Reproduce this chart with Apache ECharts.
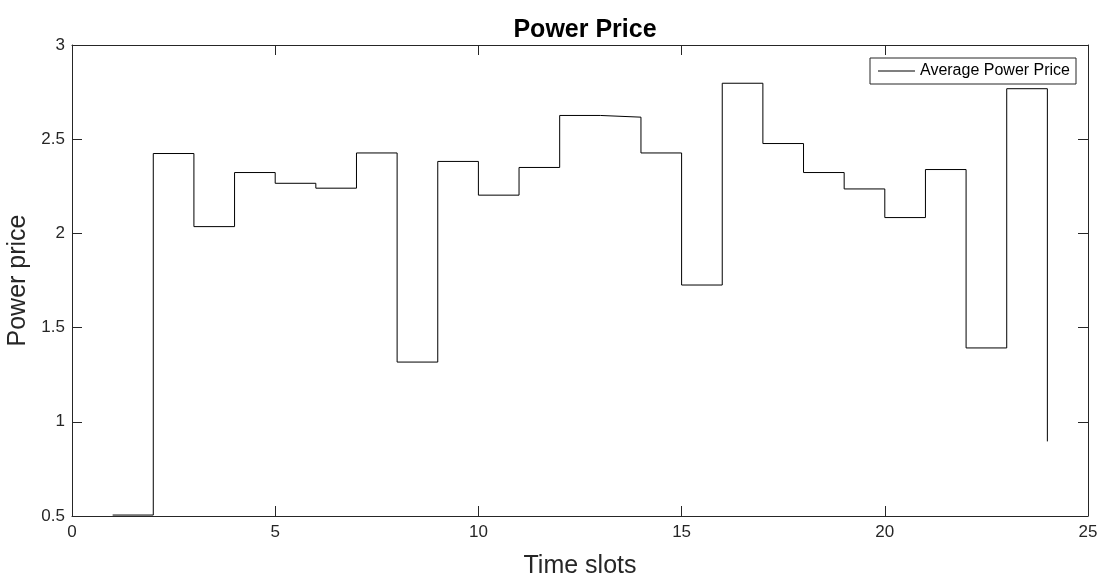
<!DOCTYPE html>
<html>
<head>
<meta charset="utf-8">
<script src="https://cdn.jsdelivr.net/npm/echarts@6/dist/echarts.min.js"></script>
<style>
html, body { margin: 0; padding: 0; background: #fff; }
#myChart { width: 1099px; height: 576px; }
</style>
</head>
<body>
<div id="myChart"></div>
<script>
// time slots and the average price
var timeSlots = [1, 2, 3, 4, 5, 6, 7, 8, 9, 10, 11, 12, 13, 14, 15, 16, 17, 18, 19, 20, 21, 22, 23, 24];
var avgPrice = [0.505, 2.424, 2.036, 2.323, 2.266, 2.240, 2.427, 1.317, 2.382, 2.203, 2.350, 2.626,
	2.617, 2.427, 1.726, 2.797, 2.477, 2.323, 2.236, 2.084, 2.339, 1.392, 2.768, 0.896];
var xTicks = [0, 5, 10, 15, 20, 25];
var yTicks = [0.5, 1, 1.5, 2, 2.5, 3];

var axisColor = '#262626';
var font = 'Arial, "Liberation Sans", Helvetica, sans-serif';

var myChart = echarts.init(document.getElementById('myChart'));

var seriesData = timeSlots.map(function (t, i) { return [t, avgPrice[i]]; });

// shared look for the four sides of the box
function sideAxis(extra) {
	var base = {
		type: 'value',
		axisLine: { show: true, onZero: false, lineStyle: { color: axisColor, width: 1 } },
		axisTick: { show: true, inside: true, length: 10, lineStyle: { color: axisColor } },
		splitLine: { show: false }
	};
	for (var k in extra) base[k] = extra[k];
	return base;
}

var option = {
	animation: false,
	backgroundColor: '#fff',
	title: {
		text: 'Power Price',
		left: 580,
		top: 13,
		textAlign: 'center',
		textStyle: { fontFamily: font, fontSize: 25, fontWeight: 'bold', color: '#000' }
	},
	legend: {
		data: ['Average Power Price'],
		right: 23,
		top: 58,
		orient: 'vertical',
		padding: [5, 6, 5, 8],
		icon: 'rect',
		itemWidth: 37,
		itemHeight: 1,
		itemGap: 5,
		borderColor: axisColor,
		borderWidth: 1,
		backgroundColor: '#fff',
		textStyle: { fontFamily: font, fontSize: 16, color: '#000', padding: [0, 0, 0, 0] }
	},
	grid: {
		left: 72,
		right: 11,
		top: 45,
		bottom: 60,
		containLabel: false,
		outerBoundsMode: 'none'
	},
	xAxis: [
		sideAxis({
			position: 'bottom',
			min: 0, max: 25, interval: 5,
			name: 'Time slots',
			nameLocation: 'middle',
			nameGap: 38,
			nameTextStyle: { fontFamily: font, fontSize: 25, color: axisColor },
			axisLabel: {
				margin: 8, fontFamily: font, fontSize: 17, color: axisColor,
				formatter: function (v) { return xTicks.indexOf(v) >= 0 ? String(v) : ''; }
			}
		}),
		sideAxis({
			position: 'top',
			min: 0, max: 25, interval: 5,
			axisLabel: { show: false }
		})
	],
	yAxis: [
		sideAxis({
			position: 'left',
			min: 0.5, max: 3, interval: 0.5,
			name: 'Power price',
			nameLocation: 'middle',
			nameGap: 38,
			nameTextStyle: { fontFamily: font, fontSize: 25, color: axisColor },
			axisLabel: {
				margin: 7, fontFamily: font, fontSize: 17, color: axisColor,
				formatter: function (v) { return yTicks.indexOf(v) >= 0 ? String(v) : ''; }
			}
		}),
		sideAxis({
			position: 'right',
			min: 0.5, max: 3, interval: 0.5,
			axisLabel: { show: false }
		})
	],
	series: [
		{
			name: 'Average Power Price',
			type: 'line',
			step: 'end',
			symbol: 'none',
			data: seriesData,
			lineStyle: { color: '#000', width: 1 },
			itemStyle: { color: '#000' }
		}
	]
};

myChart.setOption(option);
</script>
</body>
</html>
